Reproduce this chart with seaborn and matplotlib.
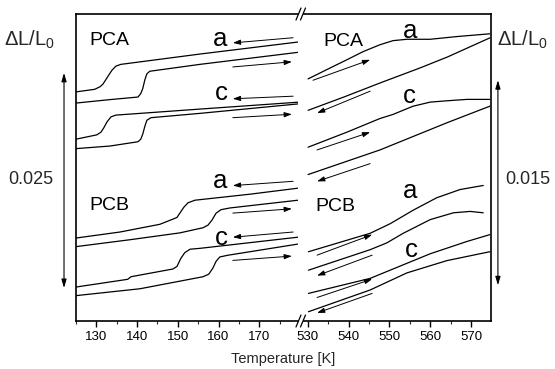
import numpy as np
import pandas as pd
import matplotlib
matplotlib.use("Agg")
import matplotlib.pyplot as plt
import matplotlib.transforms as mtransforms
from matplotlib.lines import Line2D
from matplotlib.ticker import MultipleLocator
import seaborn as sns

sns.set_style("ticks")
plt.rcParams['font.family'] = ['Liberation Sans', 'DejaVu Sans']
plt.rcParams['mathtext.fontset'] = 'custom'
plt.rcParams['mathtext.rm'] = 'Liberation Sans'
plt.rcParams['mathtext.it'] = 'Liberation Sans:italic'

# ---------------- data (dL/L0 x 1e3, curves vertically offset) ----------------
# low-temperature panel (K)
pca_a_cool_T = [125, 129.6, 130.9, 131.6, 132.3, 133.1, 133.8, 134.8, 136.0, 155.4, 179.5]
pca_a_cool_y = [26.3, 26.6, 26.9, 27.2, 27.7, 28.3, 28.8, 29.3, 29.5, 30.7, 32.1]
pca_a_heat_T = [125, 133.3, 140.2, 140.9, 141.4, 141.9, 142.4, 143.1, 155.4, 179.5]
pca_a_heat_y = [25.0, 25.4, 25.7, 26.1, 26.7, 27.7, 28.4, 28.7, 29.5, 30.9]
pca_c_cool_T = [125, 130.1, 131.1, 131.8, 132.6, 133.6, 134.8, 155.4, 179.5]
pca_c_cool_y = [20.8, 21.3, 21.6, 22.1, 22.8, 23.4, 23.6, 24.3, 25.1]
pca_c_heat_T = [125, 133.3, 140.2, 140.9, 141.4, 141.9, 142.4, 143.4, 155.4, 179.5]
pca_c_heat_y = [19.7, 20.0, 20.5, 20.8, 21.4, 22.3, 23.0, 23.3, 23.8, 24.9]
pcb_a_cool_T = [125, 135.8, 145.6, 148.8, 149.8, 150.5, 151.5, 152.5, 154.2, 167.7, 179.5]
pcb_a_cool_y = [9.3, 10.0, 10.9, 11.5, 11.7, 12.2, 12.9, 13.4, 13.7, 14.4, 15.1]
pcb_a_heat_T = [125, 138.2, 150.5, 156.2, 157.4, 158.4, 159.4, 160.6, 162.8, 179.5]
pcb_a_heat_y = [8.3, 9.1, 9.9, 10.5, 10.8, 11.4, 12.2, 12.6, 12.8, 13.7]
pcb_c_cool_T = [125, 137.7, 138.5, 148.8, 149.8, 150.7, 151.7, 153.0, 155.4, 179.5]
pcb_c_cool_y = [3.6, 4.5, 4.8, 5.7, 6.0, 6.9, 7.6, 8.0, 8.1, 9.4]
pcb_c_heat_T = [125, 140.7, 156.2, 157.6, 158.6, 159.4, 160.3, 162.3, 179.5]
pcb_c_heat_y = [2.6, 3.4, 4.8, 5.1, 5.8, 6.6, 7.1, 7.3, 8.6]

# high-temperature panel (K)
hpca_a_heat_T = [530.1, 535.5, 539.6, 543.6, 547.7, 550.9, 554.3, 560.0, 566.6, 574.6]
hpca_a_heat_y = [17.5, 18.3, 18.9, 19.5, 20.0, 20.3, 20.4, 20.4, 20.6, 20.8]
hpca_a_cool_T = [530.1, 539.1, 547.7, 557.5, 564.2, 574.6]
hpca_a_cool_y = [15.2, 16.2, 17.2, 18.3, 19.1, 20.5]
hpca_c_heat_T = [530.1, 539.6, 547.7, 550.9, 555.8, 560.0, 564.2, 569.0, 574.6]
hpca_c_heat_y = [12.5, 13.6, 14.6, 14.9, 15.5, 15.8, 15.9, 16.0, 16.0]
hpca_c_cool_T = [530.1, 547.7, 564.2, 574.6]
hpca_c_cool_y = [10.5, 12.3, 14.3, 15.5]
hpcb_a_heat_T = [530.2, 545.3, 550.2, 555.9, 561.6, 567.3, 573.0]
hpcb_a_heat_y = [4.85, 6.2, 6.9, 7.9, 8.8, 9.4, 9.7]
hpcb_a_cool_T = [530.2, 545.3, 549.4, 553.4, 560.0, 565.7, 569.8, 573.0]
hpcb_a_cool_y = [3.5, 5.0, 5.5, 6.2, 7.2, 7.7, 7.8, 7.7]
hpcb_c_heat_T = [530.2, 545.3, 550.2, 560.0, 569.0, 574.6]
hpcb_c_heat_y = [1.8, 2.9, 3.5, 4.7, 5.6, 6.1]
hpcb_c_cool_T = [530.2, 545.3, 554.3, 564.1, 574.6]
hpcb_c_cool_y = [0.46, 2.05, 3.3, 4.2, 4.85]

# direction arrows (tail T, tail y, head T, head y)
low_arrows = [(178.3, 32.6, 163.5, 32.0), (163.5, 29.2, 178.0, 29.8),
              (178.3, 25.8, 163.5, 25.5), (163.5, 23.3, 178.0, 23.7),
              (178.3, 15.9, 163.5, 15.4), (163.5, 12.2, 178.0, 12.7),
              (178.3, 10.0, 163.5, 9.4), (163.5, 6.7, 178.0, 7.2)]
high_arrows = [(531.3, 17.4, 545.3, 18.9), (545.3, 16.6, 532.3, 15.0),
               (532.3, 12.3, 545.3, 13.6), (545.3, 11.3, 532.3, 10.0),
               (532.3, 4.6, 545.8, 6.1), (545.8, 4.6, 532.3, 3.1),
               (532.3, 1.5, 545.8, 2.85), (545.8, 1.8, 532.3, 0.37)]

low_labels = [("PCA", 128.4, 31.7, 14), ("a", 158.7, 31.6, 18.5), ("c", 159.1, 25.35, 18.5),
              ("PCB", 128.4, 12.6, 14), ("a", 158.6, 15.1, 18.5), ("c", 159.1, 8.5, 18.5)]
high_labels = [("PCA", 533.8, 19.9, 14), ("a", 553.4, 20.5, 18.5), ("c", 553.4, 15.7, 18.5),
               ("PCB", 531.8, 7.8, 14), ("a", 553.4, 8.8, 18.5), ("c", 553.9, 4.45, 18.5)]

low_xticks = [130, 140, 150, 160, 170]
high_xticks = [530, 540, 550, 560, 570]
low_scale = 25.0   # = 0.025
high_scale = 15.0  # = 0.015


def frame(curves):
    rows = []
    for name, T, y in curves:
        for t, v in zip(T, y):
            rows.append((name, t, v))
    return pd.DataFrame(rows, columns=["curve", "T", "dl"])


df_low = frame([("pca_a_c", pca_a_cool_T, pca_a_cool_y), ("pca_a_h", pca_a_heat_T, pca_a_heat_y),
                ("pca_c_c", pca_c_cool_T, pca_c_cool_y), ("pca_c_h", pca_c_heat_T, pca_c_heat_y),
                ("pcb_a_c", pcb_a_cool_T, pcb_a_cool_y), ("pcb_a_h", pcb_a_heat_T, pcb_a_heat_y),
                ("pcb_c_c", pcb_c_cool_T, pcb_c_cool_y), ("pcb_c_h", pcb_c_heat_T, pcb_c_heat_y)])
df_high = frame([("pca_a_c", hpca_a_cool_T, hpca_a_cool_y), ("pca_a_h", hpca_a_heat_T, hpca_a_heat_y),
                 ("pca_c_c", hpca_c_cool_T, hpca_c_cool_y), ("pca_c_h", hpca_c_heat_T, hpca_c_heat_y),
                 ("pcb_a_c", hpcb_a_cool_T, hpcb_a_cool_y), ("pcb_a_h", hpcb_a_heat_T, hpcb_a_heat_y),
                 ("pcb_c_c", hpcb_c_cool_T, hpcb_c_cool_y), ("pcb_c_h", hpcb_c_heat_T, hpcb_c_heat_y)])

W, H = 555, 369
fig = plt.figure(figsize=(W / 100, H / 100), dpi=100)
bot = 1 - 321 / H
hgt = (321 - 14) / H
axL = fig.add_axes([76 / W, bot, 222 / W, hgt])
axR = fig.add_axes([304 / W, bot, 187 / W, hgt])

for ax, df in ((axL, df_low), (axR, df_high)):
    sns.lineplot(data=df, x="T", y="dl", units="curve", estimator=None, sort=False,
                 color="black", lw=0.9, ax=ax, legend=False)

axL.set_xlim(125, 179.5)
axL.set_ylim(-0.35, 35.36)
axR.set_xlim(529.1, 574.9)
axR.set_ylim(-0.22, 22.25)

for ax, ticks in ((axL, low_xticks), (axR, high_xticks)):
    ax.set_xticks(ticks)
    ax.xaxis.set_minor_locator(MultipleLocator(5))
    ax.set_yticks([])
    ax.set_xlabel("")
    ax.set_ylabel("")
    ax.tick_params(axis="x", which="major", direction="out", length=4, width=1,
                   labelsize=9.5, pad=3, colors="black")
    ax.tick_params(axis="x", which="minor", direction="out", length=2.5, width=0.8)
    ax.set_facecolor("white")
    for s in ax.spines.values():
        s.set_linewidth(1.2)
        s.set_color("black")

axL.spines["right"].set_visible(False)
axR.spines["left"].set_visible(False)

arrow_kw = dict(arrowstyle="-|>,head_length=0.45,head_width=0.15", lw=0.7, color="black",
                shrinkA=0, shrinkB=0)
for ax, arrows in ((axL, low_arrows), (axR, high_arrows)):
    for x0, y0, x1, y1 in arrows:
        ax.annotate("", xy=(x1, y1), xytext=(x0, y0),
                    arrowprops=arrow_kw)

for ax, labels in ((axL, low_labels), (axR, high_labels)):
    for txt, x, y, fs in labels:
        ax.text(x, y, txt, fontsize=fs, ha="left", va="baseline", color="black")

# scale bars (length in data units)
dbl_kw = dict(arrowstyle="<|-|>,head_length=0.5,head_width=0.15", lw=0.8, color="black",
              shrinkA=0, shrinkB=0)
trL = mtransforms.blended_transform_factory(axL.transAxes, axL.transData)
axL.annotate("", xy=(-0.054, 3.5), xytext=(-0.054, 3.5 + low_scale), xycoords=trL,
             textcoords=trL, arrowprops=dbl_kw, annotation_clip=False)
trR = mtransforms.blended_transform_factory(axR.transAxes, axR.transData)
axR.annotate("", xy=(1.037, 2.4), xytext=(1.037, 2.4 + high_scale), xycoords=trR,
             textcoords=trR, arrowprops=dbl_kw, annotation_clip=False)

fig.text(31 / W, 1 - 180 / H, "0.025", fontsize=13, ha="center", va="center")
fig.text(528 / W, 1 - 180 / H, "0.015", fontsize=13, ha="center", va="center")
fig.text(4 / W, 1 - 46 / H, r"$\Delta$L/L$_0$", fontsize=14.5, ha="left", va="baseline")
fig.text(497 / W, 1 - 46 / H, r"$\Delta$L/L$_0$", fontsize=14.5, ha="left", va="baseline")
fig.text(283.5 / W, 1 - 359 / H, "Temperature [K]", fontsize=10.5, ha="center", va="center")

# axis break marks
for ypix in (14, 321):
    for dx in (0, 4.5):
        fig.add_artist(Line2D([(296 + dx) / W, (301 + dx) / W],
                              [1 - (ypix + 6) / H, 1 - (ypix - 6) / H],
                              transform=fig.transFigure, color="black", lw=0.9))

fig.savefig("out.png", dpi=100, facecolor="white")
